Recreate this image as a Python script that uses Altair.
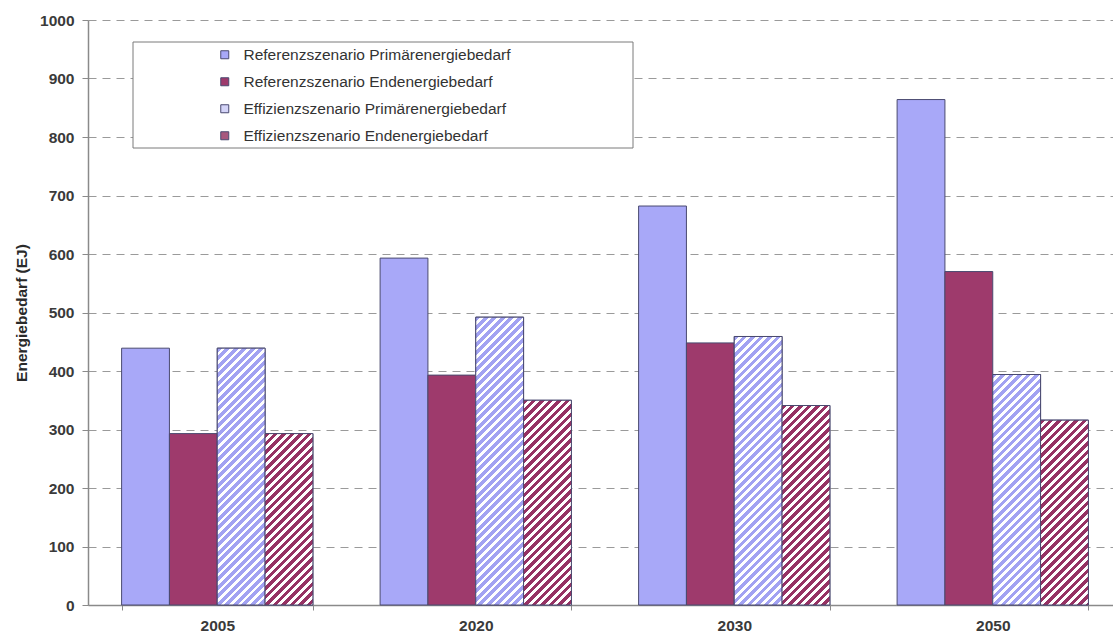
import altair as alt

# Energy demand by scenario (EJ)
years = ["2005", "2020", "2030", "2050"]
series = [
    "Referenzszenario Primärenergiebedarf",
    "Referenzszenario Endenergiebedarf",
    "Effizienzszenario Primärenergiebedarf",
    "Effizienzszenario Endenergiebedarf",
]
ref_prim = [439, 593, 682, 864]
ref_end = [293, 393, 448, 570]
eff_prim = [439, 492, 459, 394]
eff_end = [293, 350, 341, 316]
values_by_series = [ref_prim, ref_end, eff_prim, eff_end]

# solid fills (used for bars and legend swatches)
fill_solid = ["#a8a8f8", "#9e3a6c", "#d4d4f8", "#a8587e"]
# hatched series: index -> stripe colour
hatch_colors = {2: "#a2a2f2", 3: "#963264"}

# layout of the plot area
PLOT_W, PLOT_H = 1025, 585
BAND_RANGE = 1034
PAD_INNER, PAD_OUTER = 0.26, 0.13
Y_MAX = 1000
step = BAND_RANGE / (len(years) - PAD_INNER + 2 * PAD_OUTER)
bar_w = step * (1 - PAD_INNER) / len(series)
px_per_unit = PLOT_H / Y_MAX


def hatch(color, value, period=8.5, ink=0.55):
    """Linear gradient with hard stops that draws '/' stripes on a bar."""
    w = bar_w
    h = value * px_per_unit
    dx, dy = 1.0 / h, 1.0 / w
    k = (dx + dy) / (dx * dx + dy * dy)
    n = (w + h) / period
    stops = []
    i = 0
    while i < n:
        a = i / n
        b = min((i + ink) / n, 1.0)
        c = min((i + 1) / n, 1.0)
        stops += [
            {"offset": round(a, 5), "color": color},
            {"offset": round(b, 5), "color": color},
            {"offset": round(b, 5), "color": "#ffffff"},
            {"offset": round(c, 5), "color": "#ffffff"},
        ]
        i += 1
    return {"gradient": "linear", "x1": 0, "y1": 0,
            "x2": k * dx, "y2": k * dy, "stops": stops}


records = []
for si, (name, vals) in enumerate(zip(series, values_by_series)):
    for year, v in zip(years, vals):
        rec = {"Jahr": year, "Szenario": name, "Wert": v}
        if si in hatch_colors:
            rec["Muster"] = hatch(hatch_colors[si], v)
        records.append(rec)

data = alt.Data(values=records)

x_enc = alt.X(
    "Jahr:N",
    sort=years,
    scale=alt.Scale(range=[0, BAND_RANGE], paddingInner=PAD_INNER, paddingOuter=PAD_OUTER),
    axis=alt.Axis(title=None, labelAngle=0, tickBand="extent", tickSize=5,
                  labelPadding=8, grid=False, domainWidth=1.5),
)
y_enc = alt.Y(
    "Wert:Q",
    scale=alt.Scale(domain=[0, Y_MAX], nice=False),
    axis=alt.Axis(
        title="Energiebedarf (EJ)", format="d",
        values=list(range(0, Y_MAX + 1, 100)),
        grid=True, gridDash=[8, 6], gridColor="#9a9a9a", gridWidth=1.2,
        tickSize=6, labelPadding=8, titlePadding=10,
        titleFontSize=15.5, titleFontWeight="bold", titleColor="#2a2a2a",
        domainWidth=1.5,
    ),
)
xo_enc = alt.XOffset("Szenario:N", scale=alt.Scale(domain=series), sort=series)

bars = alt.Chart(data).mark_bar(stroke="#4a4a70", strokeWidth=1).encode(
    x=x_enc,
    y=y_enc,
    xOffset=xo_enc,
    fill=alt.Fill(
        "Szenario:N",
        scale=alt.Scale(domain=series, range=fill_solid),
        legend=alt.Legend(
            title=None, orient="none", legendX=129, legendY=27,
            symbolType="square", symbolSize=64,
            symbolStrokeColor="#4a4a6a", symbolStrokeWidth=1,
            labelFont="Liberation Sans", labelFontSize=15.5, labelColor="#333333",
            labelOffset=11, rowPadding=10, padding=0, labelLimit=400,
        ),
    ),
)

hatched = alt.Chart(data).transform_filter("isValid(datum.Muster)").mark_bar(
    stroke="#4a4a70", strokeWidth=1
).encode(
    x=x_enc,
    y=y_enc,
    xOffset=xo_enc,
    fill=alt.Fill(field="Muster", type="nominal", scale=None),
)

legend_frame = alt.Chart(alt.Data(values=[{"f": 1}])).mark_rect(
    fill="white", stroke="#7a7a7a", strokeWidth=1
).encode(
    x=alt.value(45), x2=alt.value(545), y=alt.value(22), y2=alt.value(128)
)

chart = (
    alt.layer(bars, hatched, legend_frame)
    .properties(
        width=PLOT_W, height=PLOT_H,
        autosize=alt.AutoSizeParams(type="none"),
        padding={"left": 88, "top": 20, "right": 0, "bottom": 30},
        background="white",
    )
    .configure_view(stroke=None)
    .configure_axis(
        labelFont="Liberation Sans", labelFontSize=15.5, labelFontWeight="bold",
        labelColor="#3a3a3a", titleFont="Liberation Sans",
        domainColor="#8a8a8a", tickColor="#8a8a8a",
    )
)

chart.save("out.html", embed_options={"renderer": "svg", "actions": False})
